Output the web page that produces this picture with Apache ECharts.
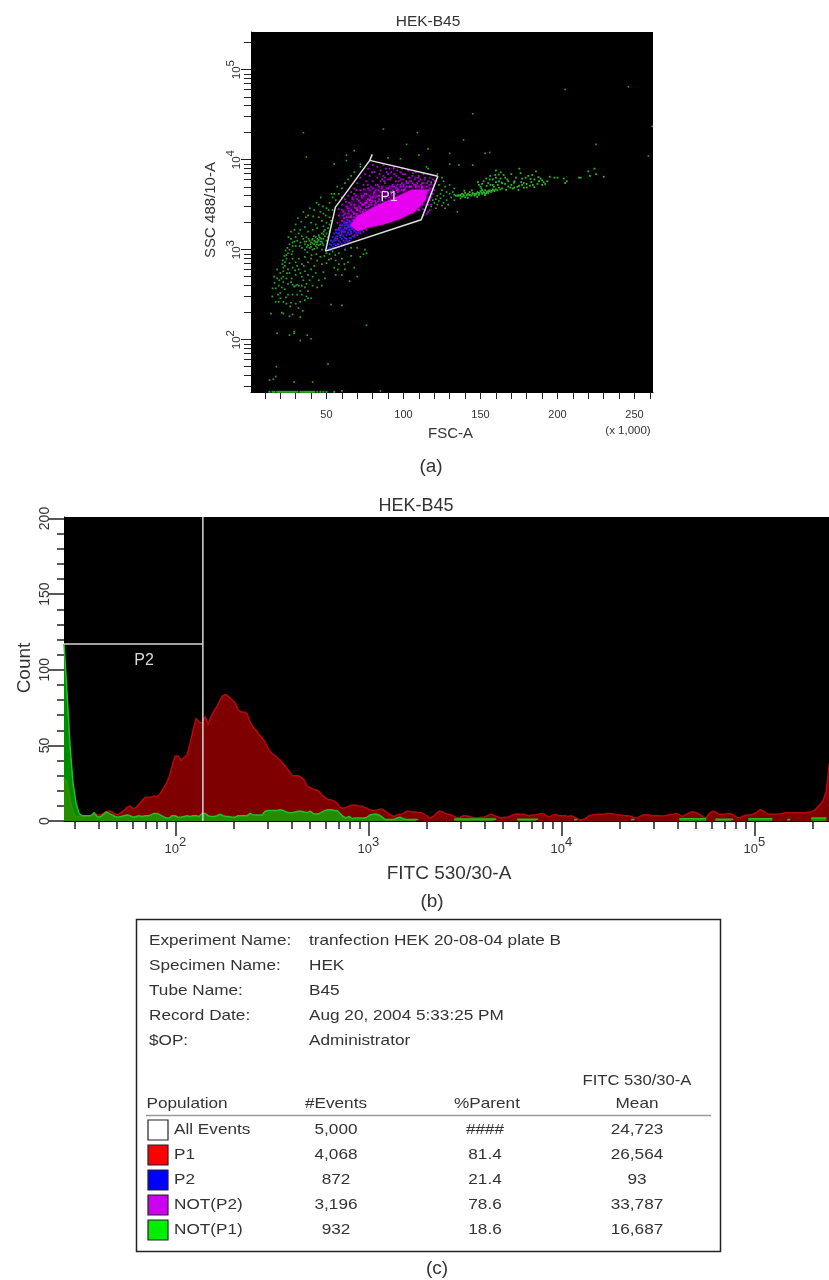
<!DOCTYPE html>
<html><head><meta charset="utf-8">
<style>html,body{margin:0;padding:0;background:#fff}#c{width:829px;height:1280px}</style>
<script src="https://cdn.jsdelivr.net/npm/echarts@6/dist/echarts.min.js"></script>
</head><body><div id="c"></div>
<script>
// ---------- Panel (a): points as [FSC-A (x1000), log10 SSC-A]
const greenTail=[136,3.6,137,3.61,138,3.59,138,3.62,139,3.61,140,3.58,141,3.6,142,3.62,143,3.61,144,3.6,145,3.63,146,3.62,147,3.61,148,3.64,149,3.63,150,3.65,151,3.62,152,3.64,153,3.66,154,3.63,155,3.65,156,3.66,157,3.64,158,3.67,159,3.65,160,3.67,161,3.66,162,3.69,163,3.67,164,3.68,146,3.6,149,3.61,151,3.66,153,3.62,155,3.63,143,3.64,140,3.63,137,3.57,135,3.6,134,3.6,133,3.61,150,3.7,149,3.72,152,3.76,151,3.73,154,3.71,155,3.74,156,3.78,158,3.78,160,3.8,162,3.76,163,3.79,165,3.83,166,3.73,168,3.76,168,3.7,170,3.72,171,3.68,172,3.69,174,3.7,175,3.71,176,3.85,177,3.79,177,3.72,178,3.74,180,3.73,180,3.69,181,3.82,182,3.71,183,3.75,184,3.72,185,3.78,186,3.87,187,3.73,188,3.76,189,3.79,190,3.77,191,3.75,192,3.73,190,3.72,195,3.81,198,3.8,200,3.8,204,3.79,205,3.74,206,3.76,214,3.8,215,3.8,220,3.87,221,3.82,225,3.84,230,3.81,224,3.9,170,3.84,173,3.8,160,3.88,164,3.74,158,3.72,166,3.8,160,3.75,172,3.76];
const greenTailExtra=[139.5,3.655,141.7,3.575,144.4,3.66,147.8,3.585,150.6,3.68,152.9,3.605,156.4,3.72,158.7,3.7,161.2,3.72,163.8,3.745,166.7,3.665,169.4,3.69,171.8,3.745,174.6,3.665,178.2,3.69,182.5,3.785,184.9,3.695,187.6,3.805,193.4,3.76,148.3,3.75,153.7,3.79,159.6,3.83,161.8,3.835,156.3,3.82,135.6,3.605,136.9,3.6,139.2,3.598,141.3,3.612,142.8,3.607,144.7,3.613,146.4,3.619,147.5,3.625,149.4,3.629,150.8,3.634,152.3,3.63,154.2,3.644,155.8,3.652,157.3,3.653,158.9,3.66,176.4,3.75,179.3,3.8,183.6,3.83,167.4,3.78,163.1,3.86,175.2,3.9];
const greenGateRight=[120,3.52,121,3.56,122,3.6,122,3.5,123,3.54,124,3.57,124,3.62,125,3.49,125,3.66,126,3.52,126,3.6,127,3.7,128,3.55,128,3.64,129,3.5,130,3.62,130,3.72,131,3.58,132,3.64,133,3.55,133,3.68,135,3.42,118,3.48,119,3.55,121,3.46,123,3.72,127,3.46,126,3.76,116,3.9,130,3.95,136,3.94,145,3.94,118,3.75,122,3.84,125,3.8];
const greenFar=[205,4.78,246,4.81,145,4.51,87,4.34,109,4.3,139,4.22,102,4.17,35,4.3,37,4.03,261.5,4.37,259,4.04,225,4.17,116,4.12,110,4.05,130,4.07,153,4.07,156,4.08,63,4.05,68,4.1,55,3.95,115,3.92,72,3.95,63,3.99,90,4.02,98,4.01];
const greenCloud=[38,3.05,39,3.1,40,3.03,40,3.08,41,3.12,41,3,42,3.06,42,3.1,43,3.04,43,3.14,44,3.08,44,3.02,45,3.11,45,3.16,46,3.06,46,3.13,47,3,47,3.09,47,3.18,48,3.12,48,3.05,49,3.15,49,3.22,50,3.1,50,3.18,51,3.24,51,3.14,52,3.2,52,3.28,36,3,36,3.06,35,3.12,34,3.02,34,3.15,33,3.08,32,3.18,31,3.1,30,3.04,30,3.14,28,3.08,28,2.98,26,3,25,2.96,24,2.94,24,2.9,23,2.86,23,2.82,22,2.8,22,2.76,41,3.07,43,3.09,44,3.12,46,3.09,39,3.02,37,3.09,37,3.14,45,3.05,42,3.01,48,3.17,
40,3.3,43,3.28,45,3.36,47,3.32,48,3.4,50,3.3,50,3.46,52,3.36,52,3.52,54,3.44,54,3.58,56,3.55,58,3.62,60,3.58,60,3.68,62,3.74,64,3.78,66,3.82,68,3.86,72,3.92,35,3.42,38,3.38,42,3.44,45,3.5,33,3.22,36,3.25,38,3.2,41,3.22,44,3.24,46,3.42,48,3.26,53,3.32,55,3.62,57,3.7,27,3.2,30,3.28,
52,2.95,54,2.98,56,2.88,58,2.96,60,2.9,62,2.78,64,2.86,66,2.93,68,2.8,70,2.7,72,2.92,74,2.95,76,2.96,65,2.65,60,2.72,55,2.8,50,2.85,48,2.75,46,2.92,44,2.88,42,2.82,40,2.9,38,2.86,36,2.92,34,2.84,32,2.9,30,2.86,28,2.9,56,2.72,58,2.84,53,2.9,50,2.96,49,2.68,47,2.84,
40,2.78,38,2.72,36,2.76,34,2.7,32,2.78,30,2.72,28,2.8,26,2.74,24,2.68,22,2.7,20,2.74,18,2.78,18,2.68,16,2.7,26,2.85,25,2.78,31,2.82,33,2.74,35,2.66,37,2.62,39,2.66,41,2.7,43,2.74,45,2.66,47,2.6,44,2.58,41,2.6,38,2.54,36,2.58,34,2.6,33,2.54,32,2.6,31,2.61,30,2.6,29,2.59,28,2.61,27,2.64,25,2.62,23,2.56,21,2.58,19,2.6,17,2.57,15,2.57,22,2.64,20,2.52,
17,2.42,19,2.42,22,2.42,24,2.4,27,2.41,30,2.4,33,2.42,36,2.44,38,2.46,40,2.46,28,2.5,31,2.5,34,2.5,37,2.48,25,2.5,20,2.46,
14,2.29,21,2.3,22,2.29,26,2.26,28,2.28,33,2.25,18,2.07,29,2.07,26,2.05,37.5,2.05,40,2.01,33,1.99,29,2.09,51,1.73,17.5,1.7,17,1.59,13,1.55,15.5,1.56,29,1.53,41,1.53,76,2.16,53,2.39,60,2.38,85,1.43,60,1.43,
62,3.0,66,3.02,70,3.02,75,3.0,28,3.04,26,3.06,27,3.12];
const greenCloudExtra=[42.6,3.085,43.7,3.06,44.4,3.095,45.3,3.14,46.7,3.12,47.4,3.07,48.3,3.2,39.6,3.06,40.7,3.11,41.8,3.15,38.4,3.12,37.2,3.03,35.8,3.09,32.6,3.04,29.3,3.09,27.4,2.95,24.6,3.02,23.4,2.99,22.7,2.93,21.6,2.88,21.4,2.84,20.8,2.68,33.7,3.31,36.6,3.36,39.2,3.46,41.3,3.37,43.6,3.52,46.3,3.58,47.8,3.48,49.5,3.38,51.4,3.44,53.3,3.62,31.4,3.35,29.2,3.22,25.3,3.14,37.6,2.97,40.3,2.94,43.4,2.95,48.7,2.93,51.6,2.89,55.7,2.94,57.3,2.78,61.6,2.84,35.3,2.82,29.7,2.77,27.3,2.68,24.3,2.74,19.4,2.66,16.3,2.63,14.8,2.48,18.6,2.5,23.7,2.47,26.4,2.37,31.8,2.35,34.6,2.32];
const greenFloor=[13,1.42,15,1.42,16,1.42,18,1.42,19,1.42,20,1.42,21,1.42,22,1.42,23,1.42,24,1.42,25,1.42,26,1.42,27,1.42,28,1.42,29,1.42,30,1.42,31,1.42,33,1.42,34,1.42,35,1.42,36,1.42,37,1.42,38,1.42,39,1.42,40,1.42,41,1.42,42,1.42,44,1.42,46,1.42,48,1.42,50,1.42,55,1.42];
const purpleField=[58,3.45,60,3.5,61,3.42,62,3.56,63,3.48,64,3.6,65,3.52,66,3.44,66,3.64,67,3.56,68,3.68,68,3.5,69,3.6,70,3.74,70,3.46,71,3.54,72,3.66,72,3.8,73,3.58,74,3.5,74,3.72,75,3.84,75,3.62,76,3.54,76,3.76,77,3.68,77,3.9,78,3.6,78,3.82,79,3.7,79,3.52,80,3.94,80,3.76,81,3.64,81,3.86,82,3.72,82,3.58,83,3.8,83,3.92,84,3.66,85,3.76,85,3.88,86,3.6,86,3.7,87,3.82,87,3.94,88,3.74,88,3.64,89,3.86,90,3.78,90,3.68,91,3.9,92,3.8,92,3.62,93,3.72,94,3.84,94,3.92,95,3.76,96,3.68,96,3.88,97,3.8,98,3.72,98,3.86,99,3.9,100,3.78,100,3.7,101,3.84,102,3.74,103,3.88,104,3.8,104,3.7,105,3.76,106,3.85,107,3.72,108,3.8,108,3.86,109,3.74,110,3.7,110,3.82,111,3.78,112,3.68,113,3.84,113,3.74,114,3.8,115,3.7,116,3.76,117,3.8,117,3.68,118,3.73,119,3.78,120,3.66,120,3.72,121,3.76,119,3.62,118,3.58,117,3.55,116,3.5,115,3.62,114,3.44,115,3.4,116,3.42,113,3.38,118,3.5,117,3.44,
60,3.32,61,3.38,62,3.3,63,3.36,64,3.4,65,3.32,66,3.38,67,3.42,68,3.36,69,3.46,70,3.4,71,3.48,72,3.42,73,3.5,74,3.44,75,3.52,76,3.48,77,3.56,78,3.5,79,3.58,80,3.54,81,3.6,82,3.52,83,3.6,84,3.56,85,3.64,86,3.58,87,3.66,88,3.6,89,3.68,90,3.62,91,3.7,92,3.64,93,3.66,94,3.7,95,3.68,96,3.72,97,3.66,98,3.7,99,3.74,100,3.72,101,3.68,102,3.7,103,3.74,104,3.76,105,3.7,106,3.74,108,3.72,110,3.76,112,3.74,
70,3.56,72,3.52,68,3.62,66,3.5,64,3.46,62,3.4,60,3.44,58,3.38,57,3.3,56,3.22,58,3.24,60,3.2,62,3.24,64,3.26,66,3.28,68,3.32,70,3.34,72,3.36,74,3.38,76,3.4,78,3.44,80,3.46,82,3.48,84,3.5,74,3.6,76,3.62,78,3.66,80,3.68,82,3.66,84,3.7,86,3.78,88,3.8,90,3.84,92,3.86,
72,3.22,74,3.24,76,3.26,78,3.28,80,3.3,82,3.32,84,3.34,86,3.34,88,3.32,90,3.34,92,3.36,94,3.36,96,3.38,98,3.4,100,3.4,102,3.42,104,3.42,106,3.44,108,3.46,110,3.48,112,3.5,113,3.54,114,3.58,66,3.18,68,3.16,70,3.16,72,3.18,74,3.2,76,3.22,65,3.1,63,3.12,61,3.1,59,3.16,57,3.12,56,3.05,58,3.06,60,3.04];
const purpleExtra=[62.7,3.53,64.4,3.43,66.8,3.58,68.3,3.47,69.4,3.66,71.6,3.43,72.8,3.6,74.3,3.67,75.7,3.47,76.8,3.72,78.4,3.56,79.6,3.86,80.7,3.62,81.4,3.5,83.3,3.72,84.6,3.84,85.8,3.68,87.4,3.76,88.6,3.9,89.7,3.62,91.3,3.78,92.7,3.7,93.6,3.9,95.4,3.82,96.8,3.76,98.3,3.78,99.6,3.84,101.7,3.76,103.4,3.8,105.7,3.82,107.3,3.78,109.6,3.8,111.4,3.72,113.6,3.78,115.3,3.74,116.8,3.72,118.6,3.68,120.3,3.76,
64.7,3.36,67.4,3.33,69.7,3.38,71.4,3.38,73.6,3.42,75.3,3.44,77.6,3.48,79.3,3.5,81.6,3.54,83.7,3.54,86.4,3.54,88.3,3.57,90.6,3.58,92.4,3.6,94.6,3.62,96.3,3.64,98.7,3.66,100.6,3.67,59.6,3.27,61.4,3.35,63.3,3.3,65.4,3.25,67.3,3.27,69.3,3.29,112.6,3.45,114.7,3.49,116.4,3.58,117.8,3.62];
const bluePoints=[51,3.0,52,3.02,52,3.06,53,3.0,53,3.1,54,3.03,54,3.14,55,3.06,55,3.18,56,3.02,56,3.1,57,3.06,57,3.15,57,3.22,58,3.03,58,3.1,58,3.18,59,3.08,59,3.14,59,3.24,60,3.06,60,3.12,60,3.18,61,3.05,61,3.15,61,3.22,62,3.08,62,3.13,62,3.2,62,3.27,63,3.1,63,3.16,63,3.23,64,3.09,64,3.19,64,3.25,65,3.13,65,3.17,65,3.22,65,3.3,66,3.13,66,3.2,66,3.25,67,3.15,67,3.24,67,3.29,68,3.14,68,3.21,68,3.27,69,3.19,69,3.25,69,3.33,70,3.18,70,3.23,71,3.19,71,3.28,72,3.24,72,3.31,73,3.22,74,3.28,75,3.25,76,3.32,78,3.3,53,3.05,55,3.02,54,3.08,56,3.14,58,3.22];
const blueExtra=[60.4,3.27,61.6,3.3,62.6,3.24,63.4,3.28,63.7,3.33,64.6,3.27,64.8,3.22,65.6,3.26,66.3,3.3,66.7,3.23,67.6,3.34,68.4,3.3,58.7,3.27,59.6,3.21,60.7,3.2,57.6,3.18,56.4,3.19,55.4,3.12,54.6,3.1];
const magentaEdge=[70,3.23,72,3.26,74,3.25,76,3.28,78,3.27,80,3.31,82,3.3,84,3.33,86,3.31,88,3.35,90,3.33,92,3.37,94,3.35,96,3.39,98,3.37,100,3.41,102,3.39,104,3.43,106,3.41,108,3.46,110,3.44,112,3.52,66,3.36,68,3.4,70,3.44,72,3.46,74,3.5,76,3.52,78,3.55,80,3.58,84,3.6,88,3.64,92,3.64,96,3.66,100,3.66,104,3.7,108,3.7,112,3.7,116,3.66];
// Dense cores of the P1 population, as [FSC-A, log10 SSC-A] outlines
const magentaCore=[69.9,3.207,77,3.245,87.2,3.281,98.1,3.344,107.8,3.429,114.3,3.556,115.4,3.667,105.6,3.667,95.9,3.592,82.9,3.492,69.9,3.37,65.6,3.27];
const purpleHaze=[58,3.15,70,3.19,90,3.31,108,3.42,118,3.55,120,3.72,105,3.74,90,3.72,75,3.68,65,3.55,58,3.4];
const gateP1=[79.7,4.059,78.1,3.992,122.3,3.815,111.5,3.333,49.4,2.984,55.8,3.473,59.1,3.548,78.1,3.992];
const fscTicks=[10,20,30,40,50,60,70,80,90,100,110,120,130,140,150,160,170,180,190,200,210,220,230,240,250,260];
const fscLabels=[50,100,150,200,250];

// ---------- Panel (b): histogram counts per channel (log-spaced channels)
const redCounts=[28,26,14,6,3,3,3,3.5,3.5,3.5,5.5,4,4,5,6,6.6,6,4.6,4,5.5,7,9,10,8,9,11,13.5,15.5,15.7,15.7,16.5,16,18,21,24.5,29,36,43,43,40,42,44,51,60,68,65,65,69,64,69,73,76,80,83,83.5,82,80,78,73.5,72,72,71,65,62,60,57,55,52,48,45,43.5,42,40,38,35.5,32.7,30,30,30,29,27,23,22,21,20.5,19.5,17,15.5,14,14,13,12,9,8.4,9,10,10.4,10.6,10,10,9,8.4,7.3,7,7,7.7,7.7,6.6,5,3.8,2.9,4.2,4.4,5,6.5,6.5,6,6,5.5,5.5,4.5,3,2,3,5,6.6,6,5,4.5,4,3,2,2.5,3.5,3.5,3,2.5,2,2,2.5,2.5,3.5,4.4,4,3,2.3,2.2,2.5,2.5,3.5,4.4,4.6,4.5,4.5,4,3.5,4,4,4.5,5,4.5,3,2.8,4,4.4,3.5,3.5,3.5,3,3.5,2.5,1.5,0.7,1,2,3.5,4,4.3,4.5,4.5,4.5,5,5,4.7,4.2,4,3.8,3.5,3.5,3,2,2,3.2,4,4.2,4,3.5,3.7,3.5,3.3,3.5,3.8,4.2,4.5,5,4,3,4,5,6,6,5,4,2.5,2,5,6.4,6,4.5,4.5,4.5,4.8,5,4,2.5,2,3,3.8,4,4.2,5,6,7.5,6.5,5,4.5,4.5,4.5,4.6,4.8,5.3,5.5,5.5,5.5,5.5,5.5,5.5,5.5,6,6.2,7,9,11,14,20,38];
const _=null;
const greenCounts=[117,85,50,25,12,5,3.5,3.5,3.5,3.5,5.5,3,2.5,4,6,5,4,3,2.5,3,3.5,4,3.5,2.5,3,3.5,3,3.5,3.5,4,5,5,4,3,2,2,3.5,3.5,2.5,2.5,3,3.5,3,3.5,3.5,3,5,5,3.5,3,3,3.5,4.5,3.5,3,3,2.5,2.5,3.5,3.5,3.5,3.5,5,4,4,4,4,6.5,7,7,7,7,7.5,7,6,5.5,5.5,6,6.5,6.5,6,5.5,6.5,5,4.5,5,6,7,7.5,7.5,7,7,5,3,2,3,1.5,2,2,2,2,2.5,4,4.5,4.5,4,2.5,1,1,1,1,2,2.5,1.5,1,1,1,1,1,_,_,_,_,_,_,_,_,_,_,_,1.3,1.3,1.3,1.3,1.3,1.3,1.3,1.3,1.3,1.3,1.3,1.3,1.3,1.3,1.3,_,_,_,_,_,_,1.2,1.2,1.2,1.2,1.2,1.2,1.2,1.2,_,_,_,_,_,_,_,_,_,_,_,1,1,_,_,_,_,_,_,_,_,_,_,_,_,_,_,_,_,_,1,1,_,_,_,_,_,_,_,_,_,_,_,_,_,_,1.5,1.5,1.5,1.5,1.5,1.5,1.5,1.5,1.5,1.5,_,_,1.2,1.2,1.2,1.2,1.2,1.2,1.2,_,1,_,_,1.5,1.5,1.5,1.5,1.5,1.5,1.5,1.5,1.5,_,_,_,_,1,1,_,_,_,_,_,_,2,2,2,2,2,2];
const channelStart=1.4235, channelStep=0.01555; // log10 FITC at channel 0, decades per channel
const gateP2Edge=139, gateP2Count=117;
const fitcDecades=[2,3,4,5];
const countMajor=[0,50,100,150,200];
const countMinor=[10,20,30,40,60,70,80,90,110,120,130,140,160,170,180,190];

// ---------- Panel (c): statistics table
const infoLabels=['Experiment Name:','Specimen Name:','Tube Name:','Record Date:','$OP:'];
const infoValues=['tranfection HEK 20-08-04 plate B','HEK','B45','Aug 20, 2004 5:33:25 PM','Administrator'];
const popNames=['All Events','P1','P2','NOT(P2)','NOT(P1)'];
const popColors=['#ffffff','#ff0000','#0000ff','#cc00ee','#00ee00'];
const popEvents=['5,000','4,068','872','3,196','932'];
const popParent=['####','81.4','21.4','78.6','18.6'];
const popMean=['24,723','26,564','93','33,787','16,687'];

const FONT='"Liberation Sans", Arial, sans-serif', INK='#333';
const pairs=f=>{const o=[];for(let i=0;i<f.length;i+=2)o.push([f[i],Math.pow(10,f[i+1])]);return o;};
const decadeValues=(from,to)=>{const o=[];for(let d=from;d<to;d++)for(let m=2;m<=9;m++)o.push(m*Math.pow(10,d));return o;};
const sup=(v)=>`{b|10}{s|${Math.round(Math.log10(v))}}`;
const richLab=(fs,lh)=>({b:{fontSize:fs,fontFamily:FONT,color:INK,lineHeight:lh,verticalAlign:'bottom'},s:{fontSize:fs,fontFamily:FONT,color:INK,verticalAlign:'top'}});
const aLine={show:true,onZero:false,lineStyle:{color:'#000',width:1}};
const hidden={show:false};

const AX_MIN=26.2, AX_MAX=262144, FMIN=Math.pow(10,channelStart), FMAX=Math.pow(10,5.387);
const majorA=[100,1000,10000,100000], minorA=decadeValues(1,5).filter(v=>v>=AX_MIN&&v<=AX_MAX).concat([200000]);
const majorB=fitcDecades.map(d=>Math.pow(10,d));
const minorB=decadeValues(1,5).filter(v=>v>=FMIN&&v<=FMAX).concat([200000]);

const xAxis=[
 {gridIndex:0,type:'value',min:1,max:262,position:'bottom',axisLine:aLine,splitLine:hidden,
  axisTick:{show:true,length:7,customValues:fscTicks,lineStyle:{color:'#222'}},
  axisLabel:{show:true,customValues:fscLabels,margin:17,fontSize:11,color:INK,fontFamily:FONT,hideOverlap:false}},
 {gridIndex:1,type:'log',logBase:10,min:FMIN,max:FMAX,position:'bottom',axisLine:aLine,splitLine:hidden,
  axisTick:{show:true,length:15,customValues:majorB,lineStyle:{color:'#222',width:1.5}},
  axisLabel:{show:true,customValues:majorB,margin:15,formatter:sup,rich:richLab(13,20),hideOverlap:false}},
 {gridIndex:1,type:'log',logBase:10,min:FMIN,max:FMAX,position:'bottom',axisLine:hidden,splitLine:hidden,
  axisTick:{show:true,length:8,customValues:minorB,lineStyle:{color:'#222',width:1.5}},axisLabel:hidden}
];
const yAxis=[
 {gridIndex:0,type:'log',logBase:10,min:AX_MIN,max:AX_MAX,position:'left',axisLine:aLine,splitLine:hidden,
  axisTick:{show:true,length:10,customValues:majorA,lineStyle:{color:'#222'}},
  axisLabel:{show:true,customValues:majorA,rotate:90,margin:8,formatter:sup,rich:richLab(11.5,18),hideOverlap:false}},
 {gridIndex:0,type:'log',logBase:10,min:AX_MIN,max:AX_MAX,position:'left',axisLine:hidden,splitLine:hidden,
  axisTick:{show:true,length:7,customValues:minorA,lineStyle:{color:'#222'}},axisLabel:hidden},
 {gridIndex:1,type:'value',min:0,max:201,position:'left',axisLine:aLine,splitLine:hidden,
  axisTick:{show:true,length:16,customValues:countMajor,lineStyle:{color:'#222',width:1.5}},
  axisLabel:{show:true,customValues:countMajor,rotate:90,margin:12,fontSize:14,color:INK,fontFamily:FONT,hideOverlap:false}},
 {gridIndex:1,type:'value',min:0,max:201,position:'left',axisLine:hidden,splitLine:hidden,
  axisTick:{show:true,length:7,customValues:countMinor,lineStyle:{color:'#222',width:1.5}},axisLabel:hidden}
];

const dots=(name,arr,color,size,z)=>({name,type:'scatter',xAxisIndex:0,yAxisIndex:0,data:pairs(arr),symbol:'rect',symbolSize:size,itemStyle:{color,opacity:1},z,silent:true,animation:false,large:false});
const blob=(name,arr,fill,z,blur)=>({name,type:'custom',xAxisIndex:0,yAxisIndex:0,z,silent:true,animation:false,data:[0],clip:true,
  renderItem:(p,api)=>({type:'polygon',shape:{points:pairs(arr).map(d=>api.coord(d))},style:{fill,shadowBlur:blur,shadowColor:fill}})});
const channelX=i=>Math.pow(10,channelStart+i*channelStep);
const hist=(name,arr,line,area,z)=>({name,type:'line',xAxisIndex:1,yAxisIndex:2,data:arr.map((v,i)=>[channelX(i),v]),showSymbol:false,symbol:'none',z,silent:true,animation:false,connectNulls:false,
  lineStyle:{color:line,width:1.5},areaStyle:{color:area,opacity:1,origin:'start'}});
const gateLine=(name,data,xi,yi,width,color)=>({name,type:'line',xAxisIndex:xi,yAxisIndex:yi,data,showSymbol:false,symbol:'none',z:20,silent:true,animation:false,lineStyle:{color,width}});

const series=[
 dots('NOT(P1) floor',greenFloor,'#22aa22',2,2),
 dots('NOT(P1) tail',greenTail,'#2aba2a',1.8,2),
 dots('NOT(P1) tail extra',greenTailExtra,'#2aba2a',1.8,2),
 dots('NOT(P1) right',greenGateRight,'#2ab82a',1.6,2),
 dots('NOT(P1) far',greenFar,'#26aa26',1.6,2),
 dots('NOT(P1) cloud',greenCloud,'#28a828',1.7,2),
 dots('NOT(P1) cloud extra',greenCloudExtra,'#28a828',1.7,2),
 blob('P1 haze',purpleHaze,'rgba(120,0,160,0.32)',3,3),
 dots('NOT(P2) field',purpleField,'#b000d8',1.8,4),
 dots('NOT(P2) extra',purpleExtra,'#b000d8',1.8,4),
 dots('P2',bluePoints,'#2a22e8',2,5),
 dots('P2 extra',blueExtra,'#2a22e8',2,5),
 blob('NOT(P2) core',magentaCore,'#e800f0',6,2),
 dots('NOT(P2) edge',magentaEdge,'#e000e8',2,6),
 gateLine('P1 gate',pairs(gateP1),0,0,1.5,'#e0e0e0'),
 hist('P1 hist',redCounts,'#b80808','#7e0000',4),
 hist('NOT(P1) hist',greenCounts,'#22c022','rgba(0,200,0,0.7)',5),
 gateLine('P2 gate h',[[FMIN,gateP2Count],[gateP2Edge,gateP2Count]],1,2,1.5,'#d8d8d8'),
 gateLine('P2 gate v',[[gateP2Edge,0],[gateP2Edge,201]],1,2,1.5,'#d8d8d8')
];

const txt=(x,y,s,size,align,extra)=>Object.assign({type:'text',x,y,z:50,silent:true,style:{text:s,fontSize:size,fontFamily:FONT,fill:INK,align:align||'left',verticalAlign:'middle'}},extra||{});
const stretched=(x,y,s,size,align)=>txt(x,y,s,size,align,{scaleX:1.145,scaleY:1});
const graphic=[
 txt(428,22,'HEK-B45',15.5,'center'),
 txt(450.5,434,'FSC-A',15,'center'),
 txt(628,431,'(x 1,000)',11.5,'center'),
 txt(211,210,'SSC 488/10-A',15,'center',{rotation:Math.PI/2}),
 txt(389,197,'P1',14,'center',{style:{text:'P1',fontSize:14,fontFamily:FONT,fill:'#e8d8e8',align:'center',verticalAlign:'middle'}}),
 txt(431,467,'(a)',19,'center'),
 txt(416,506,'HEK-B45',18,'center'),
 txt(449,874,'FITC 530/30-A',19,'center'),
 txt(25,668,'Count',19,'center',{rotation:Math.PI/2}),
 txt(144,661,'P2',16,'center',{style:{text:'P2',fontSize:16,fontFamily:FONT,fill:'#d8d8d8',align:'center',verticalAlign:'middle'}}),
 txt(432,902,'(b)',19,'center'),
 txt(437,1269,'(c)',19,'center'),
 {type:'rect',z:40,silent:true,shape:{x:136.5,y:919.5,width:584,height:332},style:{fill:'#fff',stroke:'#222',lineWidth:1.5}},
 {type:'line',z:41,silent:true,shape:{x1:146,y1:1115.5,x2:711,y2:1115.5},style:{stroke:'#999',lineWidth:1.5}}
];
infoLabels.forEach((s,i)=>{const y=941+25*i;graphic.push(stretched(149,y,s,15),stretched(309,y,infoValues[i],15));});
graphic.push(stretched(637,1081,'FITC 530/30-A',14.5,'center'));
[['Population',146.5,'left'],['#Events',336,'center'],['%Parent',487,'center'],['Mean',637,'center']].forEach(h=>graphic.push(stretched(h[1],1104,h[0],15,h[2])));
popNames.forEach((n,i)=>{const y=1130+25*i;
 graphic.push({type:'rect',z:42,silent:true,shape:{x:148,y:y-10,width:20,height:20},style:{fill:popColors[i],stroke:'#222',lineWidth:1.2}});
 graphic.push(stretched(174,y,n,15,'left'),stretched(336,y,popEvents[i],15,'center'),stretched(485,y,popParent[i],15,'center'),stretched(637,y,popMean[i],15,'center'));
});

echarts.init(document.getElementById('c'),null,{renderer:'canvas'}).setOption({
 animation:false,backgroundColor:'#ffffff',
 grid:[{left:251,top:32,width:402,height:360,show:true,backgroundColor:'#000',borderWidth:0,containLabel:false},
       {left:64,top:517,width:765,height:304,show:true,backgroundColor:'#000',borderWidth:0,containLabel:false}],
 xAxis,yAxis,series,graphic
});
</script></body></html>
